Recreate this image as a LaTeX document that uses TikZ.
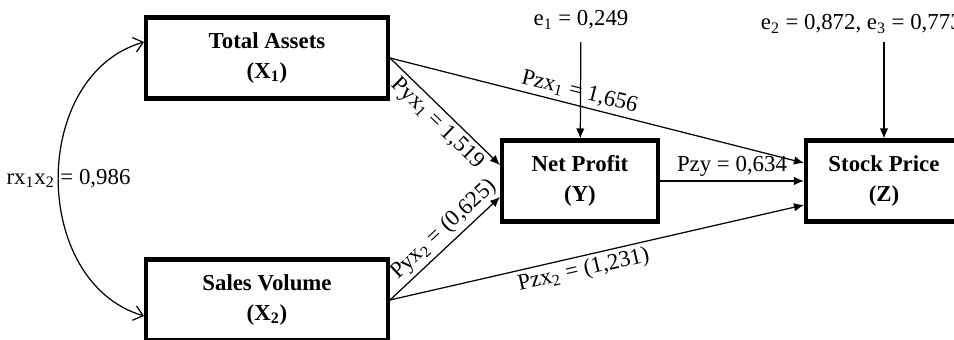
\documentclass[tikz,border=0pt]{standalone}
\usepackage{fontspec}
\setmainfont{Liberation Serif}
\usetikzlibrary{arrows.meta,positioning}

\tikzset{
    % Variable boxes
    varbox/.style={
        rectangle, draw, line width=2.3pt,
        minimum width=4.84cm, minimum height=1.62cm,
        align=center, font=\bfseries\fontsize{13}{17}\selectfont
    },
    smallbox/.style={varbox, minimum width=3.12cm},
    % Connectors and their labels
    pathline/.style={line width=0.7pt, -{Latex[length=0.2cm,width=0.17cm]}},
    corrline/.style={line width=0.7pt,
        {Straight Barb[length=0.18cm,width=0.3cm]}-{Straight Barb[length=0.18cm,width=0.3cm]}},
    coef/.style={font=\fontsize{13}{15}\selectfont, inner sep=2pt}
}

\begin{document}
\begin{tikzpicture}[x=0.02cm, y=-0.02cm]

% Picture frame
\clip (0,0) rectangle (954,340);

% Exogenous variables
\node[varbox] (ta) at (267,58) {Total Assets\\(X\textsubscript{1})};
\node[varbox, below=3.14cm of ta] (sv) {Sales Volume\\(X\textsubscript{2})};

% Intervening and dependent variables
\node[smallbox] (np) at (580,181) {Net Profit\\(Y)};
\node[smallbox, right=2.88cm of np] (sp) {Stock Price\\(Z)};

% Error terms
\node[coef] (e1) at (581,20) {e\textsubscript{1} = 0,249};
\node[coef, anchor=west] (e2) at (757,24) {e\textsubscript{2} = 0,872, e\textsubscript{3} = 0,773};
\draw[pathline, shorten <=0.18cm] (e1) -- (np);
\draw[pathline, shorten <=0.1cm] (e2.south -| sp.north) -- (sp.north);

% Correlation between X1 and X2
\draw[corrline] ([yshift=0.32cm]ta.west) .. controls (30,75) and (30,282) .. ([yshift=-0.32cm]sv.west)
    node[coef, pos=0.5, xshift=0.2cm] {rx\textsubscript{1}x\textsubscript{2} = 0,986};

% Path coefficients
\draw[pathline] (ta.east) -- node[coef, sloped, below, pos=0.52] {Pyx\textsubscript{1} = 1,519} ([yshift=0.32cm]np.west);
\draw[pathline] (sv.east) -- node[coef, sloped, above, pos=0.58] {Pyx\textsubscript{2} = (0,625)} ([yshift=-0.32cm]np.west);
\draw[pathline] (ta.east) -- node[coef, sloped, above, pos=0.45] {Pzx\textsubscript{1} = 1,656} ([yshift=0.36cm]sp.west);
\draw[pathline] (sv.east) -- node[coef, sloped, below, pos=0.46] {Pzx\textsubscript{2} = (1,231)} ([yshift=-0.48cm]sp.west);
\draw[pathline] (np) -- node[coef, above] {Pzy = 0,634} (sp);

\end{tikzpicture}
\end{document}
